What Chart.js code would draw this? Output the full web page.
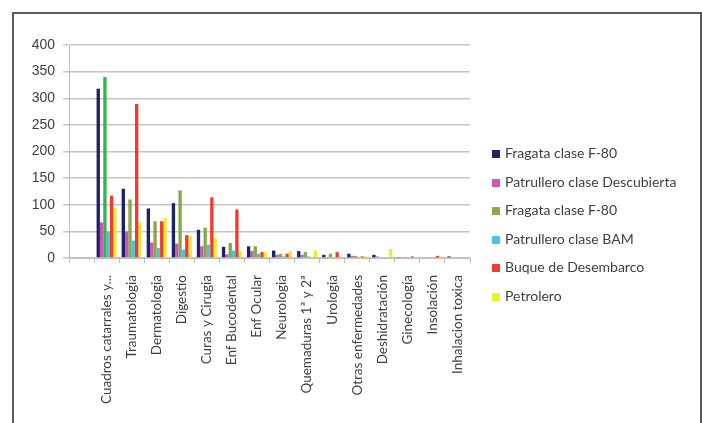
<!DOCTYPE html>
<html>
<head>
<meta charset="utf-8">
<script src="https://cdn.jsdelivr.net/npm/chart.js@4.4.1/dist/chart.umd.min.js"></script>
<style>
  html, body { margin: 0; padding: 0; background: #fff; }
  #wrap { position: relative; width: 702px; height: 423px; overflow: hidden; }
  #frame { position: absolute; left: 12px; top: 12px; width: 686px; height: 430px; border: 2px solid #5a5a5a; }
  #chart { position: absolute; left: 0; top: 0; }
  #legend { position: absolute; left: 492px; top: 145px; font-family: Lato, "Open Sans", sans-serif; font-size: 14px; color: #404040; }
  #legend div { height: 28.5px; line-height: 16px; white-space: nowrap; }
  #legend span { display: inline-block; width: 8px; height: 8px; margin-right: 5px; vertical-align: 0px; }
</style>
</head>
<body>
<div id="wrap">
  <div id="frame"></div>
  <canvas id="chart" width="702" height="423"></canvas>
  <div id="legend"></div>
</div>
<script>
// categories (first one is an empty slot, as in the original sheet)
const categories = ['', 'Cuadros catarrales y...', 'Traumatologia', 'Dermatologia', 'Digestio', 'Curas y Cirugia',
    'Enf Bucodental', 'Enf Ocular', 'Neurologia', 'Quemaduras 1ª y 2ª', 'Urologia', 'Otras enfermedades',
    'Deshidratación', 'Ginecología', 'Insolación', 'Inhalacion toxica'];

// series names and values
const seriesNames = ['Fragata clase F-80', 'Patrullero clase Descubierta', 'Fragata clase F-80',
    'Patrullero clase BAM', 'Buque de Desembarco', 'Petrolero'];

const fragataA = [null, 318, 130, 93, 103, 53, 21, 22, 14, 13, 6, 8, 6, 1, 0, 3];
const descubierta = [null, 67, 50, 29, 27, 22, 7, 13, 6, 6, 2, 4, 3, 0, 1, 0];
const fragataB = [null, 340, 110, 69, 127, 57, 28, 22, 8, 11, 8, 4, 0, 2, 0, 0];
const bam = [null, 50, 33, 19, 16, 25, 14, 8, 3, 3, 0, 2, 0, 0, 0, 0];
const buque = [null, 117, 289, 69, 43, 114, 91, 11, 8, 0, 11, 3, 0, 3, 4, 0];
const petrolero = [null, 94, 67, 75, 41, 38, 13, 11, 13, 14, 3, 3, 17, 2, 3, 0];

const yTicks = [0, 50, 100, 150, 200, 250, 300, 350, 400];

const seriesColors = ['#1f2266', '#c957b8', '#86a84a', '#45c6dc', '#f23a30', '#f0ec2a'];
const allSeries = [fragataA, descubierta, fragataB, bam, buque, petrolero];

// the first green bar is a brighter green in the original
const fragataBColors = fragataB.map((v, i) => i === 1 ? '#2cb84a' : seriesColors[2]);

const datasets = allSeries.map((values, i) => ({
    label: seriesNames[i],
    data: values,
    backgroundColor: i === 2 ? fragataBColors : seriesColors[i],
    borderWidth: 0,
    categoryPercentage: 0.8,
    barPercentage: 1.0
}));

// html legend
let legendHtml = '';
seriesNames.forEach((name, i) => {
    legendHtml += `<div><span style="background:${seriesColors[i]}"></span>${name}</div>`;
});
document.getElementById('legend').innerHTML = legendHtml;

const ctx = document.getElementById('chart').getContext('2d');
new Chart(ctx, {
    type: 'bar',
    data: { labels: categories, datasets: datasets },
    options: {
        responsive: false,
        animation: false,
        layout: { padding: { left: 0, top: 45, right: 232, bottom: 0 } },
        plugins: { legend: { display: false }, tooltip: { enabled: false } },
        scales: {
            x: {
                afterFit: (s) => { s.height = 165; },
                grid: { offset: true, drawOnChartArea: false, drawTicks: true, tickLength: 5, color: '#bdbdbd' },
                border: { color: '#bdbdbd' },
                ticks: {
                    minRotation: 90, maxRotation: 90, autoSkip: false, padding: 12,
                    color: '#404040', font: { family: 'Lato', size: 13.5 }
                }
            },
            y: {
                min: 0, max: 400,
                afterFit: (s) => { s.width = 69; },
                afterBuildTicks: (s) => { s.ticks = yTicks.map(v => ({ value: v })); },
                grid: { color: '#c6c6c6', lineWidth: 1.5, tickLength: 6 },
                border: { color: '#bdbdbd' },
                ticks: { padding: 8, color: '#404040', font: { family: 'Liberation Sans', size: 14 } }
            }
        }
    }
});
</script>
</body>
</html>
